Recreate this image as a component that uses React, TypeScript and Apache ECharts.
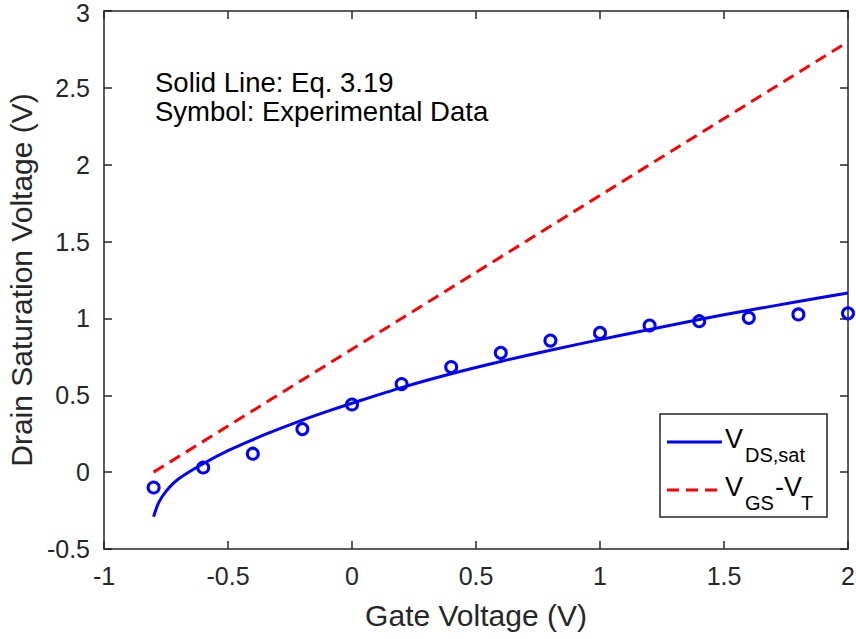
import React, { useEffect, useRef } from "react";
import * as echarts from "echarts";

const lineX = [-0.8, -0.78, -0.75, -0.7, -0.6, -0.5, -0.35, -0.2, -0.1, 0, 0.2, 0.4, 0.6, 0.8, 1.0, 1.2, 1.4, 1.6, 1.8, 2.0];
const lineY = [-0.29, -0.2, -0.125, -0.045, 0.055, 0.14, 0.245, 0.338, 0.395, 0.448, 0.55, 0.64, 0.72, 0.793, 0.862, 0.928, 0.993, 1.053, 1.11, 1.166];

const expX = [-0.8, -0.6, -0.4, -0.2, 0, 0.2, 0.4, 0.6, 0.8, 1.0, 1.2, 1.4, 1.6, 1.8, 2.0];
const expY = [-0.1, 0.03, 0.12, 0.28, 0.44, 0.573, 0.684, 0.776, 0.856, 0.906, 0.954, 0.982, 1.004, 1.026, 1.033];

const ovX = [-0.8, 2.0];
const ovY = [0, 2.8];

const xTitle = "Gate Voltage (V)";
const yTitle = "Drain Saturation Voltage (V)";
const note1 = "Solid Line: Eq. 3.19";
const note2 = "Symbol: Experimental Data";

const FONT = "'Liberation Sans', Arial, Helvetica, sans-serif";
const AX = "#262626";

export default function App() {
  const ref = useRef<HTMLDivElement>(null);
  useEffect(() => {
    if (!ref.current) return;
    const chart = echarts.init(ref.current, undefined, { renderer: "svg" });
    const axisCommon = {
      axisLine: { show: true, onZero: false, lineStyle: { color: AX, width: 1.5 } },
      axisTick: { show: true, inside: true, length: 8, lineStyle: { color: AX, width: 1.5 } },
      splitLine: { show: false },
    };
    chart.setOption({
      animation: false,
      backgroundColor: "#fff",
      textStyle: { fontFamily: FONT },
      grid: { left: 104, right: 8, top: 11, bottom: 90, containLabel: false, outerBoundsMode: "none" },
      xAxis: [
        {
          type: "value", min: -1, max: 2, interval: 0.5, position: "bottom",
          ...axisCommon,
          axisLabel: { color: AX, fontSize: 25, margin: 14, fontFamily: FONT },
          name: xTitle, nameLocation: "middle", nameGap: 51,
          nameTextStyle: { color: AX, fontSize: 30, fontFamily: FONT },
        },
        {
          type: "value", min: -1, max: 2, interval: 0.5, position: "top",
          ...axisCommon, axisLabel: { show: false },
        },
      ],
      yAxis: [
        {
          type: "value", min: -0.5, max: 3, interval: 0.5, position: "left",
          ...axisCommon,
          axisLabel: {
            color: AX, fontSize: 25, margin: 14, fontFamily: FONT,
            formatter: (v: number) => (v === 3 ? "{t|3}" : String(v)),
            rich: { t: { fontSize: 25, color: AX, fontFamily: FONT, padding: [4, 0, 0, 0] } },
          },
          name: yTitle, nameLocation: "middle", nameGap: 62,
          nameTextStyle: { color: AX, fontSize: 30, fontFamily: FONT },
        },
        {
          type: "value", min: -0.5, max: 3, interval: 0.5, position: "right",
          ...axisCommon, axisLabel: { show: false },
        },
      ],
      series: [
        {
          name: "VGS-VT", type: "line", showSymbol: false, symbol: "none",
          data: ovX.map((x, i) => [x, ovY[i]]),
          lineStyle: { color: "#ff0000", width: 3, type: [12, 7] },
          z: 2,
        },
        {
          name: "VDS,sat", type: "line", showSymbol: false, symbol: "none",
          smooth: 0.3,
          data: lineX.map((x, i) => [x, lineY[i]]),
          lineStyle: { color: "#0000ff", width: 3 },
          z: 3,
        },
        {
          name: "Experimental", type: "scatter", symbol: "circle", symbolSize: 11,
          data: expX.map((x, i) => [x, expY[i]]),
          itemStyle: { color: "rgba(0,0,0,0)", borderColor: "#0000ff", borderWidth: 3, opacity: 1 },
          z: 4,
        },
      ],
      graphic: [
        { type: "text", left: 155, top: 68, style: { text: note1, font: `27.5px ${FONT}`, fill: "#000" } },
        { type: "text", left: 155, top: 97, style: { text: note2, font: `27.5px ${FONT}`, fill: "#000" } },
        {
          type: "rect", shape: { x: 660, y: 414, width: 167, height: 103 },
          style: { fill: "#fff", stroke: AX, lineWidth: 1.5 }, z: 10,
        },
        { type: "line", shape: { x1: 667, y1: 442, x2: 722, y2: 442 }, style: { stroke: "#0000ff", lineWidth: 3 }, z: 11 },
        { type: "line", shape: { x1: 667, y1: 490, x2: 722, y2: 490 }, style: { stroke: "#ff0000", lineWidth: 3, lineDash: [12, 7] }, z: 11 },
        { type: "text", x: 725, y: 439, style: { text: "V", font: `27px ${FONT}`, fill: "#000", verticalAlign: "middle" }, z: 11 },
        { type: "text", x: 745, y: 455, style: { text: "DS,sat", font: `20px ${FONT}`, fill: "#000", verticalAlign: "middle" }, z: 11 },
        { type: "text", x: 725, y: 487, style: { text: "V", font: `27px ${FONT}`, fill: "#000", verticalAlign: "middle" }, z: 11 },
        { type: "text", x: 745, y: 503, style: { text: "GS", font: `20px ${FONT}`, fill: "#000", verticalAlign: "middle" }, z: 11 },
        { type: "text", x: 775, y: 487, style: { text: "-V", font: `27px ${FONT}`, fill: "#000", verticalAlign: "middle" }, z: 11 },
        { type: "text", x: 801, y: 503, style: { text: "T", font: `20px ${FONT}`, fill: "#000", verticalAlign: "middle" }, z: 11 },
      ],
    });
    return () => chart.dispose();
  }, []);
  return <div ref={ref} style={{ position: "absolute", left: 0, top: 0, width: 856, height: 639 }} />;
}
